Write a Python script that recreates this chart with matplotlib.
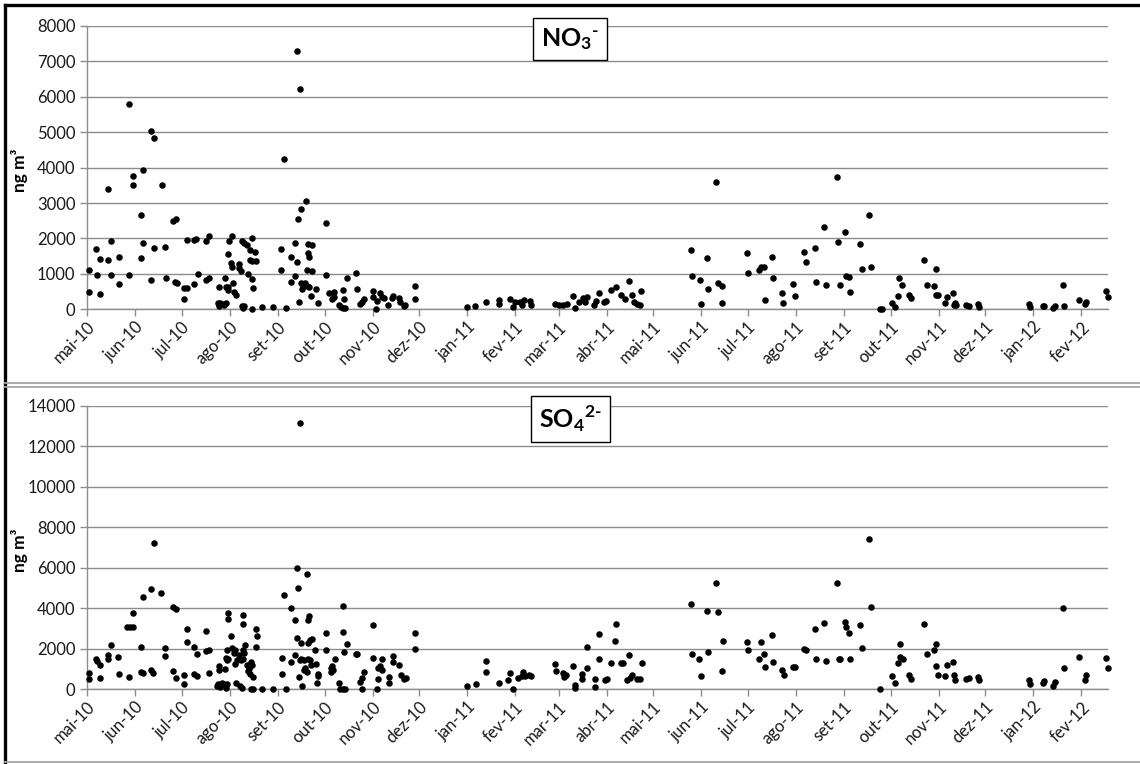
import numpy as np
import matplotlib.pyplot as plt
import matplotlib.dates as mdates
from matplotlib.lines import Line2D
from matplotlib.ticker import MultipleLocator, FuncFormatter
from datetime import datetime

plt.rcParams['font.family'] = ['Lato', 'DejaVu Sans']
plt.rcParams['mathtext.fontset'] = 'custom'
plt.rcParams['mathtext.rm'] = 'Lato:bold'
plt.rcParams['mathtext.bf'] = 'Lato:bold'

# dias de amostragem contados a partir de 01/05/2010
inicio = datetime(2010, 5, 1)
dias_fim = 658

meses = ['jan', 'fev', 'mar', 'abr', 'mai', 'jun',
         'jul', 'ago', 'set', 'out', 'nov', 'dez']

# NO3- (ng m-3)
no3_dias = [0.9, 0.9, 5.8, 6, 8.2, 8.4, 13.4, 13.5, 15, 15.3, 20.2, 20.2, 26.9, 27.1,
            29.2, 29.2, 34.4, 34.4, 36.1, 36.1, 41.1, 41.3, 42.8, 43, 48, 50.3, 50.5,
            55.5, 57.2, 56.6, 57.6, 62.4, 64.1, 62.4, 64.1, 68.6, 70.1, 69, 71.4, 76.6,
            78.3, 76.6, 78.3, 84.7, 84.1, 85.5, 85, 87, 88, 89.2, 89, 91.2, 93.3, 91,
            92.7, 93, 89.2, 91, 90.5, 94, 94.6, 95.7, 98, 98, 99, 99.8, 101.3, 102.8,
            106.2, 105.2, 108.2, 105, 106, 109, 103.4, 106, 106.7, 99.6, 100.6, 101, 106,
            112.5, 120, 128, 125.2, 125.2, 127.1, 131.2, 131.2, 134, 135.3, 135.5, 136,
            137.2, 137.8, 141.3, 136.3, 134, 137.6, 138.3, 139, 140.4, 141.5, 142.2,
            144.7, 142.2, 142.8, 141.5, 144.7, 143.2, 144, 147.3, 148.6, 154, 154, 156,
            158, 159, 159, 162.4, 163.3, 165, 166.2, 165, 165.6, 167.3, 173.3, 174, 176,
            177.4, 178.5, 184, 184.5, 186, 187, 188.8, 189.9, 191, 194, 197, 196.5, 201,
            201.7, 204, 205, 211.4, 211.4, 244.8, 249.7, 256.8, 265.2, 265.2, 272.3,
            274.8, 275.5, 279, 280.5, 281.5, 285.7, 286.1, 301.3, 303.9, 307, 309.2,
            313.2, 314.7, 316.9, 319.7, 322.3, 321.2, 326.8, 328, 330, 333.2, 334.7,
            337.5, 340.6, 344.3, 347, 349.6, 351.3, 352.4, 354.5, 357.1, 356.6, 389.5,
            389.9, 394.8, 395.4, 399.6, 400.3, 405.5, 406.4, 409.5, 409.5, 425.5, 426,
            432.9, 434.4, 436.1, 437, 441.3, 442.2, 448.2, 448.8, 454.8, 456.1, 462.1,
            463.2, 469, 470.1, 474.8, 476.1, 483.4, 484.3, 485.1, 488.6, 489.5, 491,
            491.8, 498.5, 499.6, 504.3, 505.4, 511, 512.5, 519, 520.6, 522.8, 523.6,
            525.6, 529.6, 531.4, 539.8, 541.5, 545.8, 547.1, 547, 548.4, 553.3, 554.2,
            558.3, 558.7, 559.4, 560, 566.9, 568.4, 574.4, 575.2, 607, 608, 616, 617.1,
            623, 624, 629.3, 630.1, 639.6, 643.2, 644.3, 657, 658]
no3_vals = [1110, 480, 1700, 960, 1430, 443, 3390, 1395, 1915, 960, 1470, 707, 5787, 960,
            3755, 3508, 2660, 1440, 3933, 1885, 830, 5044, 4827, 1735, 3517, 1770, 896,
            2480, 2546, 783, 745, 594, 594, 302, 1952, 1961, 1990, 726, 1000, 1933,
            2075, 820, 896, 622, 170, 170, 95, 150, 120, 170, 886, 1914, 2075, 1547,
            1300, 1188, 622, 530, 640, 735, 500, 405, 1282, 1160, 1085, 1914, 1867, 1820,
            2000, 1669, 1612, 1396, 1367, 1367, 990, 849, 594, 90, 25, 90, 20,
            66, 66, 47, 1697, 1103, 4235, 783, 1471, 1867, 1339, 7293, 2546,
            6220, 2829, 3065, 217, 952, 735, 566, 680, 755, 660, 1839,
            1820, 1603, 1490, 1113, 1085, 641, 377, 575, 179, 2442, 962, 453,
            283, 358, 481, 120, 60, 30, 40, 547, 302, 886, 1028, 566, 150,
            207, 292, 519, 339, 20, 226, 453, 358, 311, 123, 377, 311, 311,
            217, 104, 123, 660, 302, 57, 94, 217, 264, 141, 292,
            75, 217, 200, 120, 250, 230, 120, 151, 123, 123, 141,
            387, 28, 198, 330, 358, 217, 123, 236, 453, 217, 236,
            547, 641, 405, 292, 811, 405, 217, 151, 528, 123, 1675,
            935, 830, 145, 1443, 560, 3590, 745, 665, 189, 1584, 1037,
            1113, 1188, 1188, 264, 1480, 886, 453, 189, 707, 368, 1631,
            1339, 1735, 773, 2329, 698, 3734, 1886, 698, 2178, 952, 924,
            481, 1848, 1150, 2659, 1188, 0, 0, 189, 75, 368, 886,
            698, 405, 330, 1405, 698, 660, 1150, 405, 405, 189, 340,
            471, 120, 170, 130, 123, 80, 141, 75, 141, 75, 104, 104,
            47, 94, 698, 104, 264, 151, 198, 519, 340]

# SO4 2- (ng m-3)
so4_dias = [0.9, 0.9, 5.8, 6.5, 8.2, 8.4, 13.3, 13.5, 15.1, 20, 20.2, 25.8, 27.5, 29.2,
            29.2, 27.1, 34.4, 34.6, 36.1, 36.1, 41.1, 41.1, 43, 42.6, 47.7, 50.3, 50.3,
            55.5, 57.2, 55.5, 57.2, 62.4, 62.4, 64.1, 64.1, 68.8, 71, 69, 71, 76.6, 76.6,
            78.3, 78.3, 85.2, 85.2, 91, 91, 92.5, 90.3, 89.2, 91, 93.1, 88.8, 89.9, 83.5,
            84.5, 85.7, 86.7, 88.2, 89.9, 89.2, 94.6, 95.3, 96.3, 95.3, 95.7, 98.5, 99.6,
            100.6, 100.6, 100.2, 101.7, 101.3, 100.6, 98.9, 98, 102.8, 105.6, 106, 104.5,
            105, 106.7, 103.9, 105.4, 107, 108.6, 109.2, 108.6, 112.5, 120, 128, 125.4,
            125.4, 127.1, 131.2, 131.2, 134, 133.8, 135.3, 135.5, 136.1, 137.2, 141.5,
            136.3, 137.8, 137, 138, 139.8, 142.2, 143.7, 142.2, 142.8, 143.7, 144.7,
            142.6, 138.7, 139.4, 140.6, 141.5, 144, 146.5, 147.5, 148.8, 148, 148.6, 154,
            154, 157, 157.3, 158, 158.6, 159.8, 162.4, 162.8, 165.1, 166.2, 164.7, 164.7,
            167.5, 165.6, 173.3, 174.2, 176, 177.4, 178.7, 177, 184, 184.5, 186.7, 187.7,
            188.8, 189.9, 189.9, 187.7, 194.4, 194.4, 197, 197, 201.3, 202.2, 204, 205.6,
            211.4, 211.4, 244.8, 250.8, 256.8, 256.8, 265.2, 271.2, 272.7, 274.8, 278,
            280, 281, 282, 285, 286, 301.3, 302.4, 307, 307.7, 308.5, 313.2, 314.7, 314.7,
            319, 319, 322.3, 322.3, 327.6, 327.6, 329.8, 329.8, 334.1, 335.2, 337.7,
            340.1, 340.7, 344.1, 345.2, 348, 350, 351.3, 354.5, 349.4, 357.6, 356.6,
            389.5, 390.2, 394.7, 395.4, 399.6, 400.4, 405.5, 406.5, 409.6, 409.5, 425.5,
            426, 432.9, 434.6, 436.1, 437, 441.3, 442.2, 448.2, 449, 454.8, 456.6, 462.1,
            463.2, 469, 470.1, 474.8, 476.1, 483.4, 484.5, 485.6, 488.6, 489.5, 491,
            491.8, 498.5, 499.6, 504.3, 505.4, 511.4, 519, 520.5, 522.8, 523.9, 524.3,
            525.8, 529.6, 531.4, 539.8, 541.5, 545.8, 547.3, 547.3, 548.4, 553.3, 554.2,
            558.3, 559.1, 559.8, 566.9, 568.4, 574.4, 575.2, 607, 608, 616, 617.1, 623,
            624, 629.3, 630.1, 639.6, 643.2, 644.3, 657, 658]
so4_vals = [826, 496, 1521, 1405, 1190, 579, 1686, 1521, 2182, 1603, 744, 3091, 3091, 3091,
            3752, 628, 2099, 860, 4579, 826, 4959, 975, 7224, 826, 4777, 2017, 1653,
            4083, 3950, 893, 579, 694, 248, 2959, 2314, 2066, 1719, 744, 645, 2893, 1884,
            1934, 826, 1157, 975, 3785, 3488, 2628, 1934, 1554, 1488, 2017, 992, 1438, 170,
            280, 110, 320, 250, 280, 50, 1769, 1934, 1438, 1240, 331, 165, 66,
            3670, 3223, 1934, 2182, 1769, 1521, 1438, 1686, 1190, 1355, 1190, 1025,
            777, 612, 893, 0, 0, 2959, 2628, 2066, 0, 0, 0, 1554,
            777, 4661, 4000, 1339, 3421, 1686, 2512, 6017, 5025, 13170, 5686,
            612, 2265, 1438, 1521, 1438, 1521, 1438, 3421, 3620, 2430, 2480,
            2265, 165, 942, 1075, 860, 1190, 1934, 1273, 777, 314, 645, 2760,
            1934, 860, 1050, 1157, 960, 1521, 314, 0, 0, 0, 4116, 2843,
            2248, 1851, 1720, 1750, 347, 579, 860, 0, 3157, 1537, 0, 1058,
            1157, 1521, 942, 512, 612, 314, 1653, 1355, 1223, 727, 530, 562,
            2777, 1984, 165, 248, 843, 1422, 298, 463, 793, 0, 545,
            660, 876, 660, 711, 661, 1256, 909, 793, 628, 711, 1157, 215, 50,
            760, 512, 2066, 1041, 512, 132, 2727, 1488, 463, 496, 1289,
            2397, 3223, 1322, 1289, 463, 545, 711, 512, 1670, 1289, 510,
            4205, 1750, 1490, 660, 3890, 1865, 5237, 3810, 2390, 907, 2325,
            1945, 1481, 2321, 1745, 1103, 2699, 1350, 955, 691, 1086, 1086, 1992,
            1942, 2963, 1481, 3292, 1416, 5234, 1481, 1481, 3308, 3094, 2765,
            1481, 3160, 2058, 7407, 4049, 0, 642, 313, 1284, 2255, 1580,
            1481, 708, 510, 3210, 1728, 1926, 2255, 1152, 708, 642, 1218,
            1333, 708, 461, 510, 576, 593, 444, 444, 263, 329, 428, 181,
            346, 4000, 1037, 1613, 444, 708, 1531, 1037]

cinza = '#8c8c8c'
t0 = mdates.date2num(inicio)


def rotulo_mes(x, pos):
    d = mdates.num2date(x)
    return '%s-%02d' % (meses[d.month - 1], d.year % 100)


def painel(ax, dias, vals, ymax, passo, titulo):
    ax.scatter(t0 + np.array(dias), vals, marker='o', s=22, c='black',
               linewidths=0, zorder=3, clip_on=False)
    ax.set_xlim(t0, t0 + dias_fim)
    ax.set_ylim(0, ymax)
    ax.yaxis.set_major_locator(MultipleLocator(passo))
    ax.xaxis.set_major_locator(mdates.MonthLocator())
    ax.xaxis.set_major_formatter(FuncFormatter(rotulo_mes))
    ax.grid(axis='y', color=cinza, lw=1.0)
    ax.set_axisbelow(True)
    for s in ['top', 'right']:
        ax.spines[s].set_visible(False)
    for s in ['left', 'bottom']:
        ax.spines[s].set_color(cinza)
        ax.spines[s].set_linewidth(1.0)
    ax.tick_params(axis='both', direction='out', color=cinza, length=5,
                   width=1, labelsize=12, labelcolor='#1a1a1a')
    ax.tick_params(axis='x', pad=2)
    for lb in ax.get_xticklabels():
        lb.set_rotation(45)
        lb.set_ha('right')
        lb.set_rotation_mode('anchor')
    ax.set_ylabel('ng m³', fontsize=12.5, fontweight='bold')
    ax.yaxis.set_label_coords(-0.058, 0.49)
    ax.text(0.4732, 0.953, titulo, transform=ax.transAxes, ha='center',
            va='center', fontsize=18, zorder=5,
            bbox=dict(boxstyle='square,pad=0.32', fc='white', ec='black', lw=1))


fig = plt.figure(figsize=(11.4, 7.64), dpi=100)
ax1 = fig.add_axes([0.0766, 0.5952, 0.8951, 0.3708])
ax2 = fig.add_axes([0.0766, 0.0978, 0.8951, 0.3708])

painel(ax1, no3_dias, no3_vals, 8000, 1000, r'$\mathbf{NO_3}{}^{\text{-}}$')
painel(ax2, so4_dias, so4_vals, 14000, 2000, r'$\mathbf{SO_4}{}^{\text{2-}}$')

# moldura
fig.add_artist(Line2D([0.0044, 1], [0.9935, 0.9935], color='black', lw=2.4))
fig.add_artist(Line2D([0.0044, 0.0044], [0, 0.9935], color='black', lw=2.4))
for yy in [1 - 383 / 764, 1 - 387 / 764, 1 - 762 / 764]:
    fig.add_artist(Line2D([0.0044, 1], [yy, yy], color='#a6a6a6', lw=1.3))

fig.savefig('out.png', dpi=100)
